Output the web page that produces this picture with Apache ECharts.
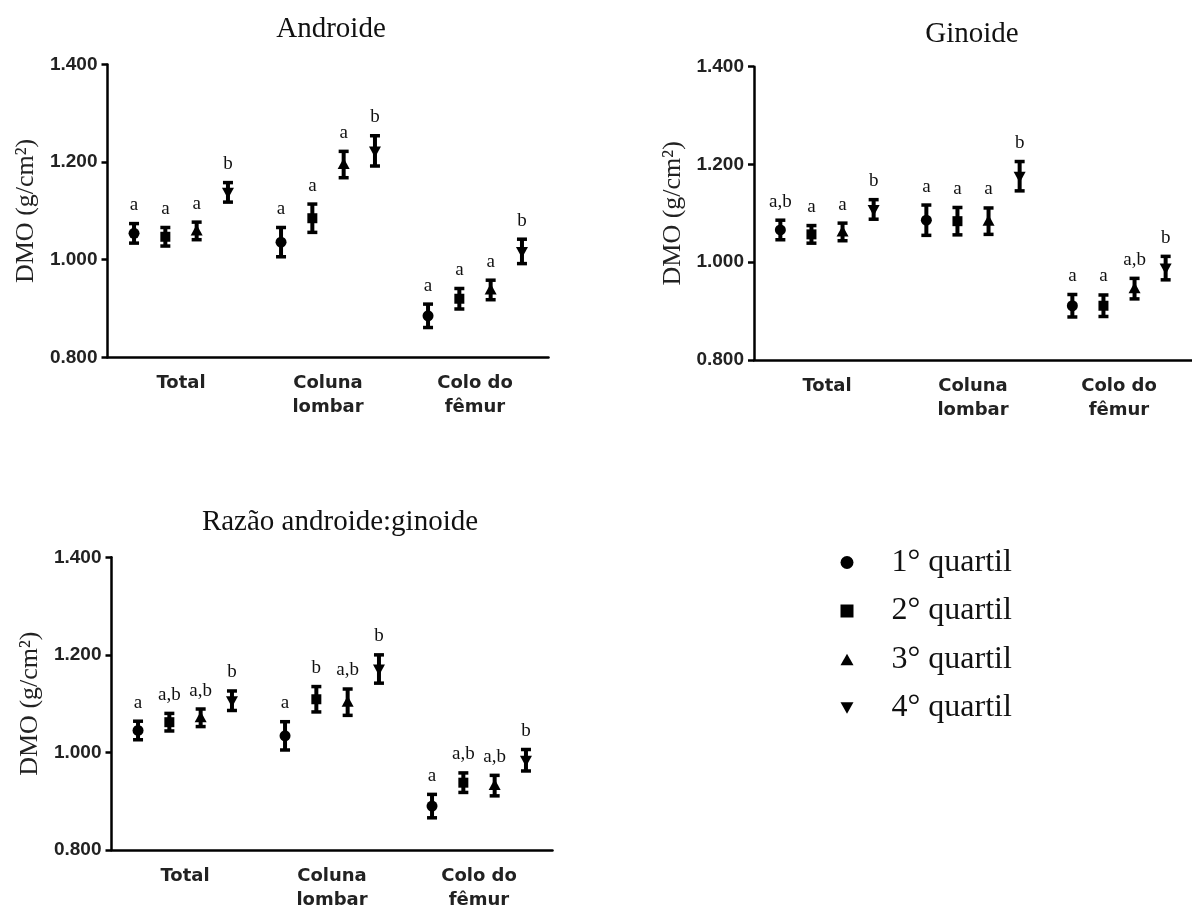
<!DOCTYPE html>
<html><head><meta charset="utf-8">
<script src="https://cdn.jsdelivr.net/npm/echarts@6/dist/echarts.min.js"></script>
<style>html,body{margin:0;padding:0;background:#fff}#c{width:1192px;height:912px}</style>
</head><body><div id="c"></div>
<script>
// ---------- data ----------
const categories = ['Total', 'Coluna\nlombar', 'Colo do\nfêmur'];
const quartiles = ['1° quartil', '2° quartil', '3° quartil', '4° quartil'];
const panelTitles = ['Androide', 'Ginoide', 'Razão androide:ginoide'];
const yName = 'DMO (g/cm²)';
const yMin = 0.8, yMax = 1.4, yStep = 0.2;

// means per quartile (rows) x category (cols)
const androideMean = [
  [1.054, 1.036, 0.885],
  [1.047, 1.085, 0.920],
  [1.059, 1.195, 0.938],
  [1.138, 1.223, 1.017]
];
const androideErr = [
  [0.020, 0.030, 0.024],
  [0.019, 0.029, 0.021],
  [0.018, 0.027, 0.020],
  [0.020, 0.031, 0.025]
];
const androideLabels = [
  ['a', 'a', 'a'],
  ['a', 'a', 'a'],
  ['a', 'a', 'a'],
  ['b', 'b', 'b']
];

const ginoideMean = [
  [1.066, 1.086, 0.911],
  [1.057, 1.084, 0.911],
  [1.062, 1.084, 0.946],
  [1.108, 1.176, 0.988]
];
const ginoideErr = [
  [0.020, 0.031, 0.023],
  [0.018, 0.028, 0.022],
  [0.018, 0.027, 0.021],
  [0.020, 0.030, 0.024]
];
const ginoideLabels = [
  ['a,b', 'a', 'a'],
  ['a', 'a', 'a'],
  ['a', 'a', 'a,b'],
  ['b', 'b', 'b']
];

const razaoMean = [
  [1.045, 1.034, 0.890],
  [1.062, 1.109, 0.938],
  [1.071, 1.103, 0.932],
  [1.106, 1.171, 0.984]
];
const razaoErr = [
  [0.019, 0.029, 0.024],
  [0.018, 0.026, 0.020],
  [0.018, 0.027, 0.021],
  [0.020, 0.029, 0.022]
];
const razaoLabels = [
  ['a', 'a', 'a'],
  ['a,b', 'b', 'a,b'],
  ['a,b', 'a,b', 'a,b'],
  ['b', 'b', 'b']
];

const panelMeans = [androideMean, ginoideMean, razaoMean];
const panelErrs = [androideErr, ginoideErr, razaoErr];
const panelLabels = [androideLabels, ginoideLabels, razaoLabels];

// ---------- layout / style ----------
const grids = [
  { left: 107.5, top: 64.5, width: 441, height: 292.8 },
  { left: 754, top: 66.7, width: 441, height: 293.3 },
  { left: 111.5, top: 557.3, width: 441, height: 293.4 }
];
const titlePos = [[331, 29], [972, 34], [340, 522]];
const OFFSET_STEP = 0.213;
const markerShapes = ['circle', 'square', 'triangle', 'triangleDown'];
const legendIcons = [
  'circle',
  'rect',
  'path://M5,0 L10,9 L0,9 Z',
  'path://M0,0 L10,0 L5,9 Z'
];

function marker(shape, x, y) {
  const st = { fill: '#000' };
  if (shape === 'circle') return { type: 'circle', shape: { cx: x, cy: y, r: 5.5 }, style: st };
  if (shape === 'square') return { type: 'rect', shape: { x: x - 5, y: y - 5, width: 10, height: 10 }, style: st };
  if (shape === 'triangle') return { type: 'polygon', shape: { points: [[x, y - 6.5], [x - 6, y + 4.5], [x + 6, y + 4.5]] }, style: st };
  return { type: 'polygon', shape: { points: [[x, y + 6.5], [x - 6, y - 4.5], [x + 6, y - 4.5]] }, style: st };
}

function makeRender(q, labels) {
  return function (params, api) {
    const cat = api.value(0), mean = api.value(1), err = api.value(2);
    const bw = api.size([1, 0])[0];
    const p = api.coord([cat, mean]);
    const x = p[0] + (q - 1.5) * OFFSET_STEP * bw;
    const y = p[1];
    const yTop = api.coord([cat, mean + err])[1];
    const yBot = api.coord([cat, mean - err])[1];
    const cw = 5;
    const ls = { stroke: '#000', lineWidth: 3.5 };
    return {
      type: 'group',
      children: [
        { type: 'line', shape: { x1: x, y1: yTop, x2: x, y2: yBot }, style: { stroke: '#000', lineWidth: 4 } },
        { type: 'line', shape: { x1: x - cw, y1: yTop, x2: x + cw, y2: yTop }, style: ls },
        { type: 'line', shape: { x1: x - cw, y1: yBot, x2: x + cw, y2: yBot }, style: ls },
        marker(markerShapes[q], x, y),
        { type: 'text', style: { text: labels[params.dataIndex], x: x, y: yTop - 9, align: 'center', verticalAlign: 'bottom', font: '19px "Liberation Serif"', fill: '#111' } }
      ]
    };
  };
}

const xAxes = grids.map((g, i) => ({
  type: 'category', gridIndex: i, data: categories,
  axisLine: { lineStyle: { color: '#000', width: 2.5 } },
  axisTick: { alignWithLabel: true, length: 11, lineStyle: { color: '#000', width: 2.5 } },
  axisLabel: { margin: 14, fontFamily: 'DejaVu Sans', fontWeight: 'bold', fontSize: 18, lineHeight: 24, color: '#222' },
  splitLine: { show: false }
}));
const yAxes = grids.map((g, i) => ({
  type: 'value', gridIndex: i, min: yMin, max: yMax, interval: yStep,
  name: yName, nameLocation: 'middle', nameGap: 68,
  nameTextStyle: { fontFamily: 'Liberation Serif', fontSize: 26, color: '#222' },
  axisLine: { show: true, lineStyle: { color: '#000', width: 2.5 } },
  axisTick: { show: true, length: 6, lineStyle: { color: '#000', width: 2.5 } },
  axisLabel: { margin: 10, formatter: v => v.toFixed(3), fontFamily: 'Liberation Sans', fontWeight: 'bold', fontSize: 19, color: '#222' },
  splitLine: { show: false }
}));

const series = [];
for (let p = 0; p < 3; p++) {
  for (let q = 0; q < 4; q++) {
    series.push({
      type: 'custom', name: quartiles[q], xAxisIndex: p, yAxisIndex: p,
      itemStyle: { color: '#000' },
      encode: { x: 0, y: 1 },
      renderItem: makeRender(q, panelLabels[p][q]),
      data: categories.map((c, k) => [k, panelMeans[p][q][k], panelErrs[p][q][k]]),
      silent: true
    });
  }
}

const chart = echarts.init(document.getElementById('c'), null, { renderer: 'canvas' });
chart.setOption({
  backgroundColor: '#fff',
  animation: false,
  title: panelTitles.map((t, i) => ({
    text: t, left: titlePos[i][0], top: titlePos[i][1], padding: 0,
    textAlign: 'center', textVerticalAlign: 'middle',
    textStyle: { fontFamily: 'Liberation Serif', fontSize: 29, fontWeight: 'normal', color: '#111' }
  })),
  legend: {
    orient: 'vertical', left: 835.5, top: 541.5,
    itemWidth: 13, itemHeight: 13, itemGap: 16.5,
    data: quartiles.map((n, i) => ({ name: n, icon: legendIcons[i] })),
    textStyle: { fontFamily: 'Liberation Serif', fontSize: 32, lineHeight: 32, color: '#111', padding: [0, 0, 0, 33] },
    selectedMode: false
  },
  grid: grids,
  xAxis: xAxes,
  yAxis: yAxes,
  series: series
});
</script>
</body></html>
